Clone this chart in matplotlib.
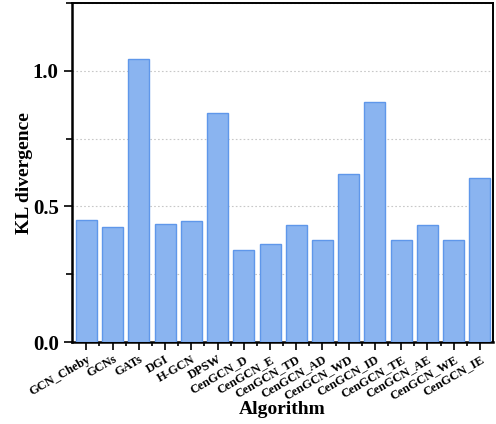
import numpy as np
import matplotlib
matplotlib.use('Agg')
import matplotlib.pyplot as plt
from matplotlib.ticker import MultipleLocator, FixedLocator

# data
algorithms = ['GCN_Cheby', 'GCNs', 'GATs', 'DGI', 'H-GCN', 'DPSW',
              'CenGCN_D', 'CenGCN_E', 'CenGCN_TD', 'CenGCN_AD', 'CenGCN_WD',
              'CenGCN_ID', 'CenGCN_TE', 'CenGCN_AE', 'CenGCN_WE', 'CenGCN_IE']
kl_div = [0.449, 0.423, 1.043, 0.434, 0.448, 0.844,
          0.341, 0.362, 0.432, 0.378, 0.620,
          0.884, 0.375, 0.433, 0.375, 0.604]

plt.rcParams['font.family'] = ['Liberation Serif', 'DejaVu Serif']
plt.rcParams['font.weight'] = 'bold'

fig = plt.figure(figsize=(4.96, 4.24), dpi=100)
ax = fig.add_axes([0.145, 0.193, 0.849, 0.80])

x = np.arange(len(algorithms))
ax.bar(x, kl_div, width=0.8, color='#8ab4f0', edgecolor='#5f97ea', linewidth=1.0, zorder=3)

ax.set_xlim(-0.55, len(algorithms) - 0.5)
ax.set_ylim(0, 1.25)

ax.yaxis.set_major_locator(MultipleLocator(0.5))
ax.yaxis.set_minor_locator(MultipleLocator(0.25))
ax.grid(axis='y', which='both', linestyle=(0, (1.5, 2)), color='#c8c8c8', linewidth=0.8, zorder=0)

ax.set_xticks(x)
ax.set_xticklabels(algorithms, rotation=30, ha='right', rotation_mode='anchor',
                   fontsize=9, fontweight='bold')
ax.xaxis.set_minor_locator(FixedLocator(x[:-1] + 0.5))
ax.tick_params(axis='x', which='major', length=6, width=1.2, pad=2)
ax.tick_params(axis='x', which='minor', length=3, width=1.2)
ax.tick_params(axis='y', which='major', length=6, width=1.2, labelsize=15)
ax.tick_params(axis='y', which='minor', length=4, width=1.2)
ax.tick_params(which='both', direction='out')
for lbl in ax.get_yticklabels():
    lbl.set_fontweight('bold')

ax.set_ylabel('KL divergence', fontsize=14, fontweight='bold', labelpad=0)
ax.set_xlabel('Algorithm', fontsize=14, fontweight='bold', labelpad=-1)

for side in ['left', 'bottom']:
    ax.spines[side].set_linewidth(1.8)
for side in ['top', 'right']:
    ax.spines[side].set_linewidth(1.4)

fig.savefig('out.png', dpi=100)
